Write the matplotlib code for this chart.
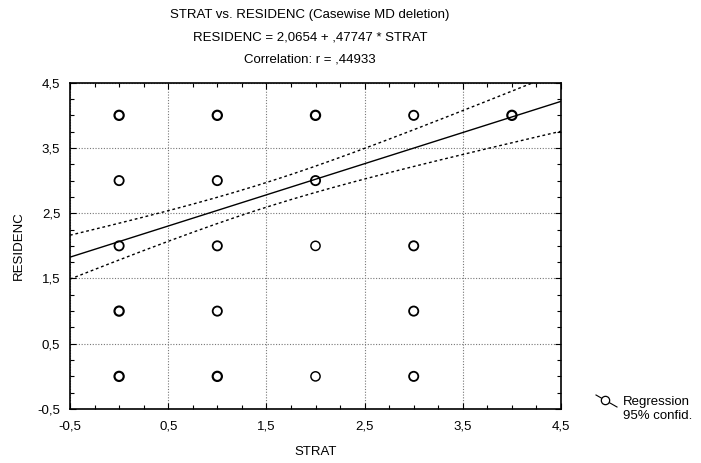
import numpy as np
import matplotlib.pyplot as plt
from matplotlib.lines import Line2D

plt.rcParams['font.family'] = ['Liberation Sans', 'DejaVu Sans']

# observed (STRAT, RESIDENC) pairs and how many cases overlap at each
strat = [0, 1, 2, 3, 4, 0, 1, 2, 0, 1, 2, 3, 0, 1, 3, 0, 1, 2, 3]
residenc = [4, 4, 4, 4, 4, 3, 3, 3, 2, 2, 2, 2, 1, 1, 1, 0, 0, 0, 0]
counts = [3, 3, 3, 2, 3, 2, 2, 2, 2, 2, 1, 2, 3, 2, 2, 3, 3, 1, 2]

# regression results printed in the title
intercept = 2.0654
slope = 0.47747
r = 0.44933
# confidence band: centre of x, half-width at the centre, growth with distance
x_mean = 1.5
hw_centre = 0.189
hw_growth = 0.139

ticks = [-0.5, 0.5, 1.5, 2.5, 3.5, 4.5]
tick_labels = ['-0,5', '0,5', '1,5', '2,5', '3,5', '4,5']

fig = plt.figure(figsize=(7.01, 4.63), dpi=100)
ax = fig.add_axes([70 / 701, 1 - 409 / 463, 491 / 701, 326.3 / 463])

ax.set_xlim(-0.5, 4.5)
ax.set_ylim(-0.5, 4.5)
ax.set_xticks(ticks)
ax.set_yticks(ticks)
ax.set_xticklabels(tick_labels)
ax.set_yticklabels(tick_labels)
ax.set_xticks(np.arange(-0.5, 4.51, 0.25), minor=True)
ax.set_yticks(np.arange(-0.5, 4.51, 0.25), minor=True)
ax.tick_params(which='both', direction='in', top=True, right=True,
               labelsize=9.5, colors='black')
ax.tick_params(which='major', length=4, width=0.8)
ax.tick_params(axis='x', which='major', pad=8)
ax.tick_params(axis='y', which='major', pad=7)
ax.tick_params(which='minor', length=3, width=0.8)
ax.grid(True, which='major', color='#777777', linestyle=(0, (1, 1.5)), linewidth=0.8)
for s in ax.spines.values():
    s.set_linewidth(1.2)

# points, thicker rings where several cases overlap
lw = [0.8 + 0.25 * c for c in counts]
ax.scatter(strat, residenc, s=44, facecolors='none', edgecolors='black',
           linewidths=lw, zorder=3)

xs = np.linspace(-0.5, 4.5, 200)
fit = intercept + slope * xs
hw = np.sqrt(hw_centre ** 2 + (hw_growth * (xs - x_mean)) ** 2)
ax.plot(xs, fit, color='black', lw=1.0, zorder=4)
ax.plot(xs, fit + hw, color='black', lw=1.0, ls=(0, (2, 2)), zorder=4)
ax.plot(xs, fit - hw, color='black', lw=1.0, ls=(0, (2, 2)), zorder=4)

ax.set_xlabel('STRAT', fontsize=9.5, labelpad=10)
ax.set_ylabel('RESIDENC', fontsize=9.5, labelpad=9)

cx = 310 / 701
fig.text(cx, 1 - 15 / 463, 'STRAT vs. RESIDENC (Casewise MD deletion)',
         ha='center', va='center', fontsize=9.5)
fig.text(cx, 1 - 38 / 463,
         'RESIDENC = %s + %s * STRAT' % ('2,0654', ',47747'),
         ha='center', va='center', fontsize=9.5)
fig.text(cx, 1 - 60 / 463, 'Correlation: r = ,44933',
         ha='center', va='center', fontsize=9.5)

# legend drawn by hand in figure coords
fig.add_artist(Line2D([596 / 701, 617 / 701], [1 - 395 / 463, 1 - 407 / 463],
                      color='black', lw=0.8, transform=fig.transFigure))
fig.add_artist(Line2D([605 / 701], [1 - 400 / 463], marker='o', markersize=6,
                      markerfacecolor='white', markeredgecolor='black',
                      markeredgewidth=0.9, transform=fig.transFigure))
fig.text(623 / 701, 1 - 402 / 463, 'Regression', fontsize=9.5, va='center')
fig.text(623 / 701, 1 - 416 / 463, '95% confid.', fontsize=9.5, va='center')

fig.savefig('out.png', dpi=100)
